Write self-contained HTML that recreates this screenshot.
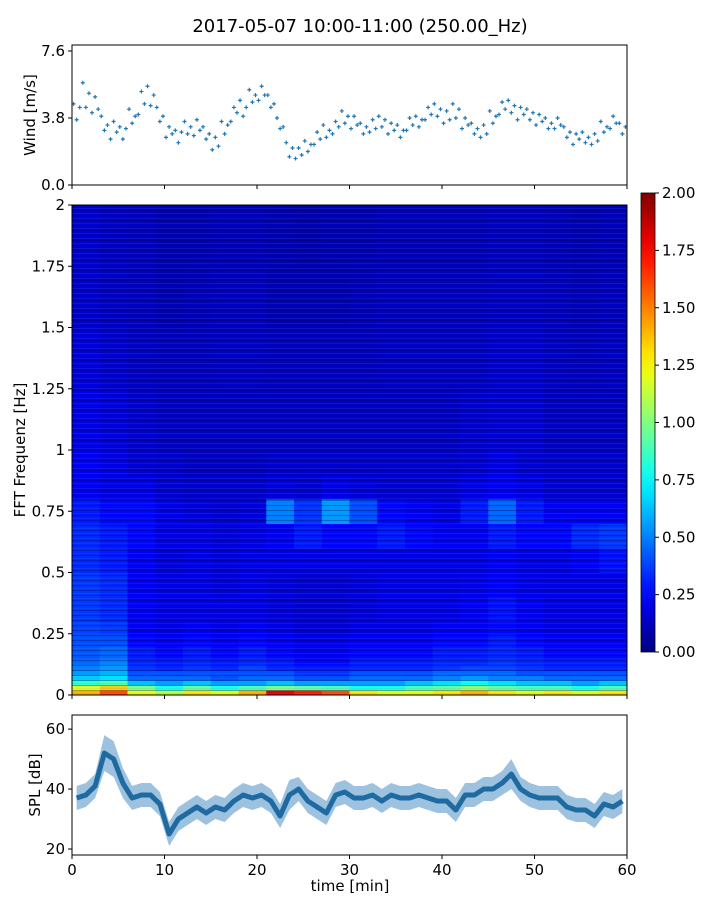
<!DOCTYPE html>
<html><head><meta charset="utf-8"><style>
body{margin:0;background:#fff;}
svg{display:block;font-family:"DejaVu Sans","Liberation Sans",sans-serif;}
</style></head><body>
<svg id="chart" width="720" height="900" viewBox="0 0 720 900">
<text x="360" y="32" text-anchor="middle" font-size="18" fill="#000">2017-05-07 10:00-11:00 (250.00_Hz)</text>
<g id="wind"></g>
<g id="spec"></g>
<g id="cbar"></g>
<g id="spl"></g>
</svg>
<script>
const xTicks = [0,10,20,30,40,50,60];
const windTicks = [0.0,3.8,7.6];
const windTickLabels = ["0.0","3.8","7.6"];
const windValues = [4.6,3.7,4.4,5.8,4.4,5.2,4.1,5.0,4.3,3.9,3.1,3.4,2.6,3.6,3.0,3.3,2.6,3.2,4.3,3.5,3.9,4.0,5.3,4.6,5.6,4.5,5.1,4.4,3.6,3.9,2.7,3.3,2.9,3.1,2.4,3.0,3.6,2.9,3.3,2.8,3.7,3.1,3.3,2.6,2.9,2.0,2.7,2.2,3.6,2.9,3.4,3.6,4.4,4.1,4.8,3.9,4.4,5.4,4.7,5.1,4.8,5.6,5.1,5.1,4.4,4.6,3.8,3.2,3.3,2.4,1.6,2.1,1.5,2.1,1.7,2.5,1.9,2.3,2.3,3.0,2.6,3.4,2.7,3.1,2.9,3.6,3.3,4.2,3.5,3.9,3.2,3.9,3.4,3.5,2.9,3.3,3.0,3.7,3.2,3.9,3.3,3.7,2.9,3.5,3.1,3.4,2.7,3.1,3.1,3.8,3.4,3.9,3.3,3.7,3.7,4.4,4.0,4.6,3.9,4.3,3.5,4.2,3.7,4.6,3.8,4.3,3.2,3.8,3.4,3.5,2.9,3.2,2.7,3.4,2.9,4.2,3.5,3.9,4.0,4.7,4.3,4.8,4.1,4.5,3.7,4.4,4.0,4.3,3.7,4.1,3.4,4.0,3.6,3.8,3.2,3.5,3.2,3.8,3.4,3.3,2.7,3.0,2.3,2.9,2.6,3.0,2.4,2.7,2.3,2.9,2.5,3.6,3.0,3.3,3.2,3.9,3.5,3.5,2.9,3.3];
const freqEdges = [0,0.02,0.04,0.06,0.08,0.1,0.125,0.15,0.2,0.25,0.3,0.4,0.5,0.6,0.7,0.8,0.9,1,1.25,1.5,1.75,2];
const freqTicks = [0,0.25,0.5,0.75,1,1.25,1.5,1.75,2];
const freqTickLabels = ["0","0.25","0.5","0.75","1","1.25","1.5","1.75","2"];
const timeEdges = [0,3,6,9,12,15,18,21,24,27,30,33,36,39,42,45,48,51,54,57,60];
const spec = [
[1.4,1.6,1.2,1.1,1.3,1.2,1.4,1.8,1.7,1.6,1.3,1.2,1.2,1.3,1.4,1.3,1.2,1.3,1.2,1.3],
[1.2,1.35,1.0,0.8,0.95,0.8,0.9,1.0,0.95,0.9,0.8,0.8,0.9,0.95,1.05,0.95,0.9,0.9,0.8,0.9],
[0.85,0.9,0.63,0.56,0.63,0.56,0.56,0.63,0.56,0.56,0.56,0.56,0.63,0.7,0.77,0.7,0.63,0.63,0.56,0.63],
[0.65,0.7,0.45,0.45,0.45,0.4,0.45,0.45,0.4,0.4,0.45,0.45,0.45,0.5,0.55,0.5,0.5,0.45,0.45,0.45],
[0.55,0.6,0.4,0.4,0.4,0.4,0.4,0.4,0.35,0.35,0.4,0.4,0.4,0.45,0.45,0.45,0.4,0.4,0.4,0.4],
[0.5,0.55,0.35,0.32,0.35,0.32,0.38,0.32,0.3,0.3,0.32,0.32,0.32,0.35,0.38,0.38,0.35,0.32,0.32,0.32],
[0.45,0.5,0.32,0.3,0.32,0.3,0.32,0.3,0.26,0.26,0.3,0.3,0.3,0.32,0.32,0.35,0.32,0.3,0.3,0.3],
[0.42,0.45,0.3,0.26,0.3,0.26,0.3,0.26,0.23,0.23,0.26,0.26,0.26,0.3,0.3,0.32,0.3,0.26,0.26,0.26],
[0.4,0.4,0.26,0.23,0.26,0.23,0.26,0.23,0.2,0.2,0.23,0.23,0.23,0.26,0.26,0.3,0.26,0.23,0.23,0.23],
[0.38,0.36,0.23,0.2,0.23,0.2,0.23,0.2,0.17,0.17,0.2,0.2,0.2,0.23,0.23,0.26,0.23,0.2,0.2,0.2],
[0.36,0.33,0.23,0.2,0.2,0.2,0.2,0.18,0.16,0.16,0.18,0.2,0.2,0.2,0.23,0.28,0.23,0.2,0.2,0.2],
[0.36,0.33,0.23,0.2,0.2,0.18,0.2,0.18,0.16,0.16,0.18,0.2,0.2,0.2,0.21,0.25,0.21,0.2,0.2,0.2],
[0.33,0.3,0.23,0.18,0.2,0.18,0.2,0.2,0.2,0.2,0.2,0.2,0.2,0.2,0.2,0.23,0.2,0.2,0.23,0.28],
[0.33,0.3,0.26,0.2,0.2,0.18,0.2,0.23,0.3,0.26,0.26,0.3,0.26,0.23,0.23,0.3,0.26,0.26,0.33,0.36],
[0.3,0.26,0.26,0.2,0.18,0.16,0.18,0.5,0.35,0.55,0.4,0.26,0.23,0.2,0.3,0.45,0.3,0.23,0.23,0.23],
[0.23,0.2,0.2,0.16,0.15,0.15,0.15,0.18,0.16,0.2,0.18,0.16,0.16,0.16,0.2,0.23,0.2,0.16,0.16,0.16],
[0.23,0.2,0.16,0.15,0.13,0.13,0.13,0.15,0.15,0.15,0.15,0.15,0.15,0.15,0.16,0.2,0.16,0.15,0.15,0.15],
[0.2,0.18,0.15,0.13,0.13,0.13,0.13,0.13,0.13,0.13,0.13,0.13,0.13,0.13,0.15,0.16,0.16,0.13,0.13,0.13],
[0.18,0.15,0.13,0.12,0.12,0.13,0.13,0.12,0.12,0.12,0.12,0.13,0.13,0.13,0.13,0.15,0.15,0.13,0.12,0.13],
[0.15,0.13,0.12,0.1,0.11,0.12,0.12,0.1,0.1,0.1,0.11,0.12,0.12,0.12,0.12,0.13,0.13,0.12,0.11,0.12],
[0.15,0.13,0.12,0.1,0.1,0.11,0.11,0.1,0.09,0.1,0.1,0.11,0.11,0.11,0.11,0.12,0.12,0.11,0.1,0.11]
];
const cbarTicks = [0,0.25,0.5,0.75,1,1.25,1.5,1.75,2];
const cbarTickLabels = ["0.00","0.25","0.50","0.75","1.00","1.25","1.50","1.75","2.00"];
const splMid = [37,38,41,52,50,42,37,38,38,35,25,30,32,34,32,34,33,36,38,37,38,36,31,38,40,36,34,32,38,39,37,37,38,36,38,37,37,38,37,36,36,33,38,38,40,40,42,45,40,38,37,37,37,34,33,33,31,35,34,36];
const splSpread = [4,4,4,6,6,5,4,4,4,4,4,4,4,4,4,4,4,4,4,4,4,4,4,5,4,4,4,4,4,4,4,4,4,4,4,4,4,4,4,4,4,4,4,4,4,4,4,5,4,4,4,4,4,4,4,4,4,4,4,4];
const splTicks = [20,40,60];

const NS="http://www.w3.org/2000/svg";
function mk(tag, attrs, parent){const e=document.createElementNS(NS,tag);for(const k in attrs)e.setAttribute(k,attrs[k]);parent.appendChild(e);return e;}
const X0=72,X1=627;
const xs = t => X0 + (t/60)*(X1-X0);
const yWind = v => 185 - (v/7.94)*140;
const ySpec = f => 695 - (f/2)*490;
const ySpl = v => 855 - ((v-18)/(64.7-18))*140;
const yCb = v => 652 - (v/2)*459;
function jet(v){let f=Math.max(0,Math.min(1,v/2));
 const r=Math.max(0,Math.min(1,Math.min(4*f-1.5,-4*f+4.5)));
 const g=Math.max(0,Math.min(1,Math.min(4*f-0.5,-4*f+3.5)));
 const b=Math.max(0,Math.min(1,Math.min(4*f+0.5,-4*f+2.5)));
 return `rgb(${Math.round(r*255)},${Math.round(g*255)},${Math.round(b*255)})`;}

function frame(g,y0,y1,name){const r=mk('rect',{x:X0,y:y0,width:X1-X0,height:y1-y0,fill:'none',stroke:'#000','stroke-width':1},g);
 
 }
function xAxisTicks(g,yb,labels){xTicks.forEach(t=>{const l=mk('line',{x1:xs(t),x2:xs(t),y1:yb,y2:yb+4,stroke:'#000'},g);
 
 
 if(labels){const tx=mk('text',{x:xs(t),y:yb+20,'text-anchor':'middle','font-size':15},g);tx.textContent=t;
 
 }});}
function yTick(g,y,label){const l=mk('line',{x1:X0-4,x2:X0,y1:y,y2:y,stroke:'#000'},g);
 
 
 const t=mk('text',{x:X0-7,y:y+5,'text-anchor':'end','font-size':15},g);t.textContent=label;
 
 }
function yTitle(g,x,y,txt,name){const t=mk('text',{x:x,y:y,'text-anchor':'middle','font-size':15,transform:`rotate(-90 ${x} ${y})`},g);t.textContent=txt;
 
 }

// Wind panel
const gw=document.getElementById('wind');
windValues.forEach((v,i)=>{const t=(i+0.5)/3;const x=xs(t),y=yWind(v);
 const p=mk('path',{d:`M${x-2} ${y}h4M${x} ${y-2}v4`,stroke:'#1f77b4','stroke-width':1.2},gw);
 
 });
frame(gw,45,185,'wind-axes-frame');
xAxisTicks(gw,185,false);
windTicks.forEach((v,i)=>yTick(gw,yWind(v),windTickLabels[i]));
yTitle(gw,35,115,'Wind [m/s]','wind-y-axis-title');

// Spectrogram
const gs=document.getElementById('spec');
spec.forEach((row,fi)=>row.forEach((v,ti)=>{
 const r=mk('rect',{x:xs(timeEdges[ti]),y:ySpec(freqEdges[fi+1]),width:xs(timeEdges[ti+1])-xs(timeEdges[ti])+0.5,height:ySpec(freqEdges[fi])-ySpec(freqEdges[fi+1])+0.5,fill:jet(v)},gs);
 
 }));
const defs=mk('defs',{},gs);
const pat=mk('pattern',{id:'stripes',width:7,height:5,patternUnits:'userSpaceOnUse'},defs);
mk('rect',{x:0,y:0,width:7,height:1,fill:'rgba(0,0,60,0.3)'},pat);
mk('rect',{x:0,y:3,width:7,height:1,fill:'rgba(60,140,255,0.15)'},pat);
const ov=mk('rect',{x:X0,y:205,width:X1-X0,height:490,fill:'url(#stripes)'},gs);


frame(gs,205,695,'spectrogram-axes-frame');
xAxisTicks(gs,695,false);
freqTicks.forEach((f,i)=>yTick(gs,ySpec(f),freqTickLabels[i]));
yTitle(gs,25,450,'FFT Frequenz [Hz]','frequency-y-axis-title');

// Colorbar
const gc=document.getElementById('cbar');
const grad=mk('linearGradient',{id:'jetgrad',x1:0,y1:1,x2:0,y2:0},mk('defs',{},gc));
for(let i=0;i<=20;i++){mk('stop',{offset:i/20,'stop-color':jet(i/10)},grad);}
const cb=mk('rect',{x:641,y:193,width:14,height:459,fill:'url(#jetgrad)',stroke:'#000','stroke-width':0.8},gc);


cbarTicks.forEach((v,i)=>{const y=yCb(v);mk('line',{x1:655,x2:659,y1:y,y2:y,stroke:'#000'},gc);
 const t=mk('text',{x:662,y:y+5,'font-size':15},gc);t.textContent=cbarTickLabels[i];
 
 });

// SPL panel
const gp=document.getElementById('spl');
let up='',dn='',mid='';
splMid.forEach((v,i)=>{const x=xs(i+0.5);up+=(i?'L':'M')+x+' '+ySpl(v+splSpread[i]);mid+=(i?'L':'M')+x+' '+ySpl(v);});
for(let i=splMid.length-1;i>=0;i--){dn+='L'+xs(i+0.5)+' '+ySpl(splMid[i]-splSpread[i]);}
const band=mk('path',{d:up+dn+'Z',fill:'#4a8fc4','fill-opacity':0.55},gp);


const line=mk('path',{d:mid,fill:'none',stroke:'#1f6aa0','stroke-width':5,'stroke-linejoin':'round'},gp);


frame(gp,715,855,'spl-axes-frame');
xAxisTicks(gp,855,true);
splTicks.forEach(v=>yTick(gp,ySpl(v),String(v)));
yTitle(gp,40,785,'SPL [dB]','spl-y-axis-title');
const xt=mk('text',{x:350,y:891,'text-anchor':'middle','font-size':15},gp);xt.textContent='time [min]';


</script>
</body></html>
